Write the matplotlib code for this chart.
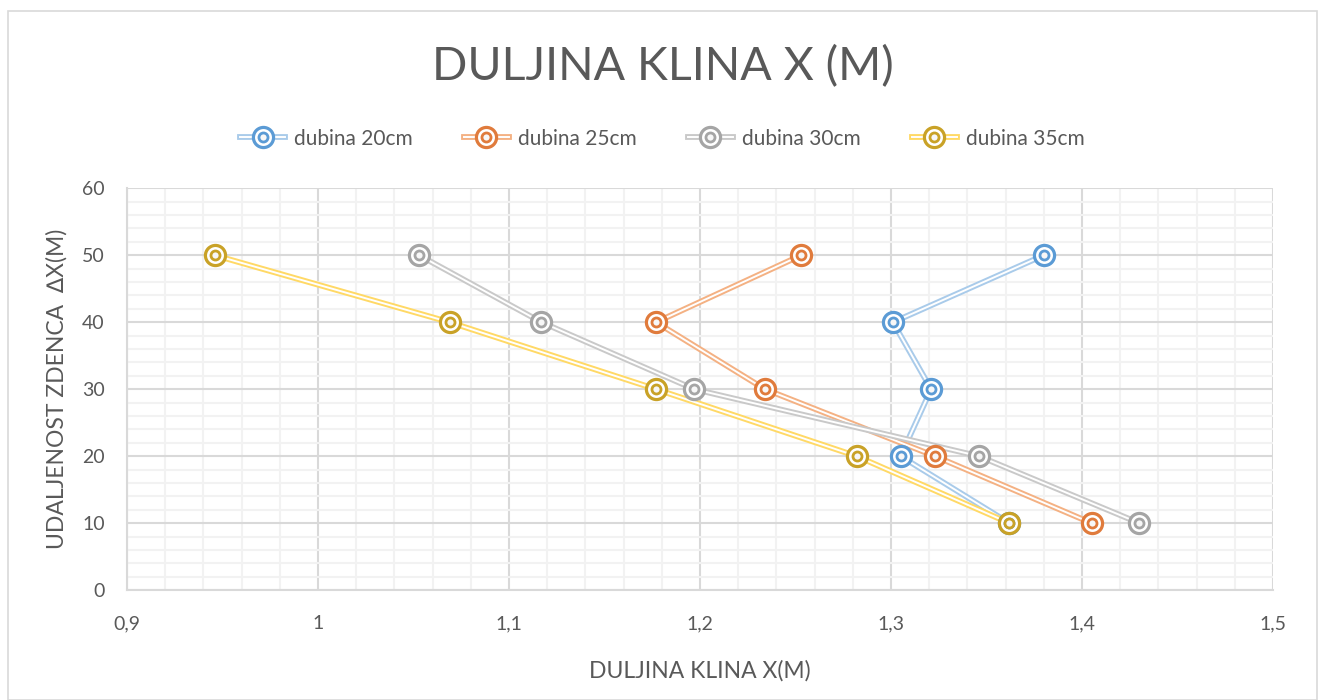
import matplotlib.pyplot as plt
from matplotlib.ticker import MultipleLocator, FuncFormatter
from matplotlib.lines import Line2D
from matplotlib.legend_handler import HandlerTuple
from matplotlib.patches import Rectangle

plt.rcParams["font.family"] = ["Lato", "DejaVu Sans"]

TEXT = "#595959"
MAJOR = "#D9D9D9"
MINOR = "#F2F2F2"

udaljenost = [10, 20, 30, 40, 50]
dubina_20 = [1.362, 1.305, 1.321, 1.301, 1.380]
dubina_25 = [1.405, 1.323, 1.234, 1.177, 1.253]
dubina_30 = [1.430, 1.346, 1.197, 1.117, 1.053]
dubina_35 = [1.362, 1.282, 1.177, 1.069, 0.946]

series = [
    ("dubina 20cm", dubina_20, "#5B9BD5", "#A9CBEA"),
    ("dubina 25cm", dubina_25, "#E07B3C", "#F4B183"),
    ("dubina 30cm", dubina_30, "#A5A5A5", "#C9C9C9"),
    ("dubina 35cm", dubina_35, "#C9A227", "#FFD966"),
]

fig = plt.figure(figsize=(13.25, 7.0), dpi=100)
fig.patches.append(Rectangle((0.006, 0.0), 0.988, 0.985, transform=fig.transFigure,
                             fill=False, edgecolor="#D9D9D9", lw=1.2))
ax = fig.add_axes([0.0958, 0.157, 0.865, 0.574])

handles = []
for name, xs, dark, light in series:
    # double line: wide light stroke with a thin white core
    ax.plot(xs, udaljenost, color=light, lw=4.2, solid_capstyle="butt", zorder=3)
    ax.plot(xs, udaljenost, color="white", lw=1.4, solid_capstyle="butt", zorder=3)
    ax.plot(xs, udaljenost, ls="none", marker="o", ms=14.5, mfc="white",
            mec=dark, mew=2.3, zorder=4)
    ax.plot(xs, udaljenost, ls="none", marker="o", ms=6.5, mfc="#F7F7F7",
            mec=dark, mew=2.0, zorder=5)
    h = (
        Line2D([], [], color=light, lw=4.2),
        Line2D([], [], color="white", lw=1.4),
        Line2D([], [], ls="none", marker="o", ms=14.5, mfc="white", mec=dark, mew=2.3),
        Line2D([], [], ls="none", marker="o", ms=6.5, mfc="#F7F7F7", mec=dark, mew=2.0),
    )
    handles.append((h, name))

ax.set_xlim(0.9, 1.5)
ax.set_ylim(0, 60)
ax.xaxis.set_major_locator(MultipleLocator(0.1))
ax.xaxis.set_minor_locator(MultipleLocator(0.02))
ax.yaxis.set_major_locator(MultipleLocator(10))
ax.yaxis.set_minor_locator(MultipleLocator(2))
ax.xaxis.set_major_formatter(FuncFormatter(lambda v, p: f"{v:g}".replace(".", ",")))

ax.grid(which="minor", color=MINOR, lw=1.5, zorder=0)
ax.grid(which="major", color=MAJOR, lw=1.5, zorder=1)
ax.set_axisbelow(True)
for side in ("top", "right"):
    ax.spines[side].set_visible(False)
for side in ("left", "bottom"):
    ax.spines[side].set_color(MAJOR)
    ax.spines[side].set_linewidth(1.5)

ax.tick_params(which="both", length=0, labelsize=14, colors=TEXT)
ax.tick_params(axis="x", pad=18)
ax.tick_params(axis="y", pad=16)

ax.set_xlabel("DULJINA KLINA X(M)", fontsize=16.5, color=TEXT, labelpad=20)
ax.set_ylabel("UDALJENOST ZDENCA  \u2206X(M)", fontsize=16.5, color=TEXT, labelpad=10)

fig.text(0.5, 0.905, "DULJINA KLINA X (M)", ha="center", va="center",
         fontsize=33.5, color=TEXT)

leg = fig.legend([h for h, _ in handles], [n for _, n in handles],
                 handler_map={tuple: HandlerTuple(ndivide=1, pad=0)},
                 loc="center", bbox_to_anchor=(0.5, 0.802), ncol=4, frameon=False,
                 fontsize=15, handlelength=2.15, columnspacing=2.45, handletextpad=0.45)
for t in leg.get_texts():
    t.set_color(TEXT)

fig.savefig("out.png", dpi=100)
